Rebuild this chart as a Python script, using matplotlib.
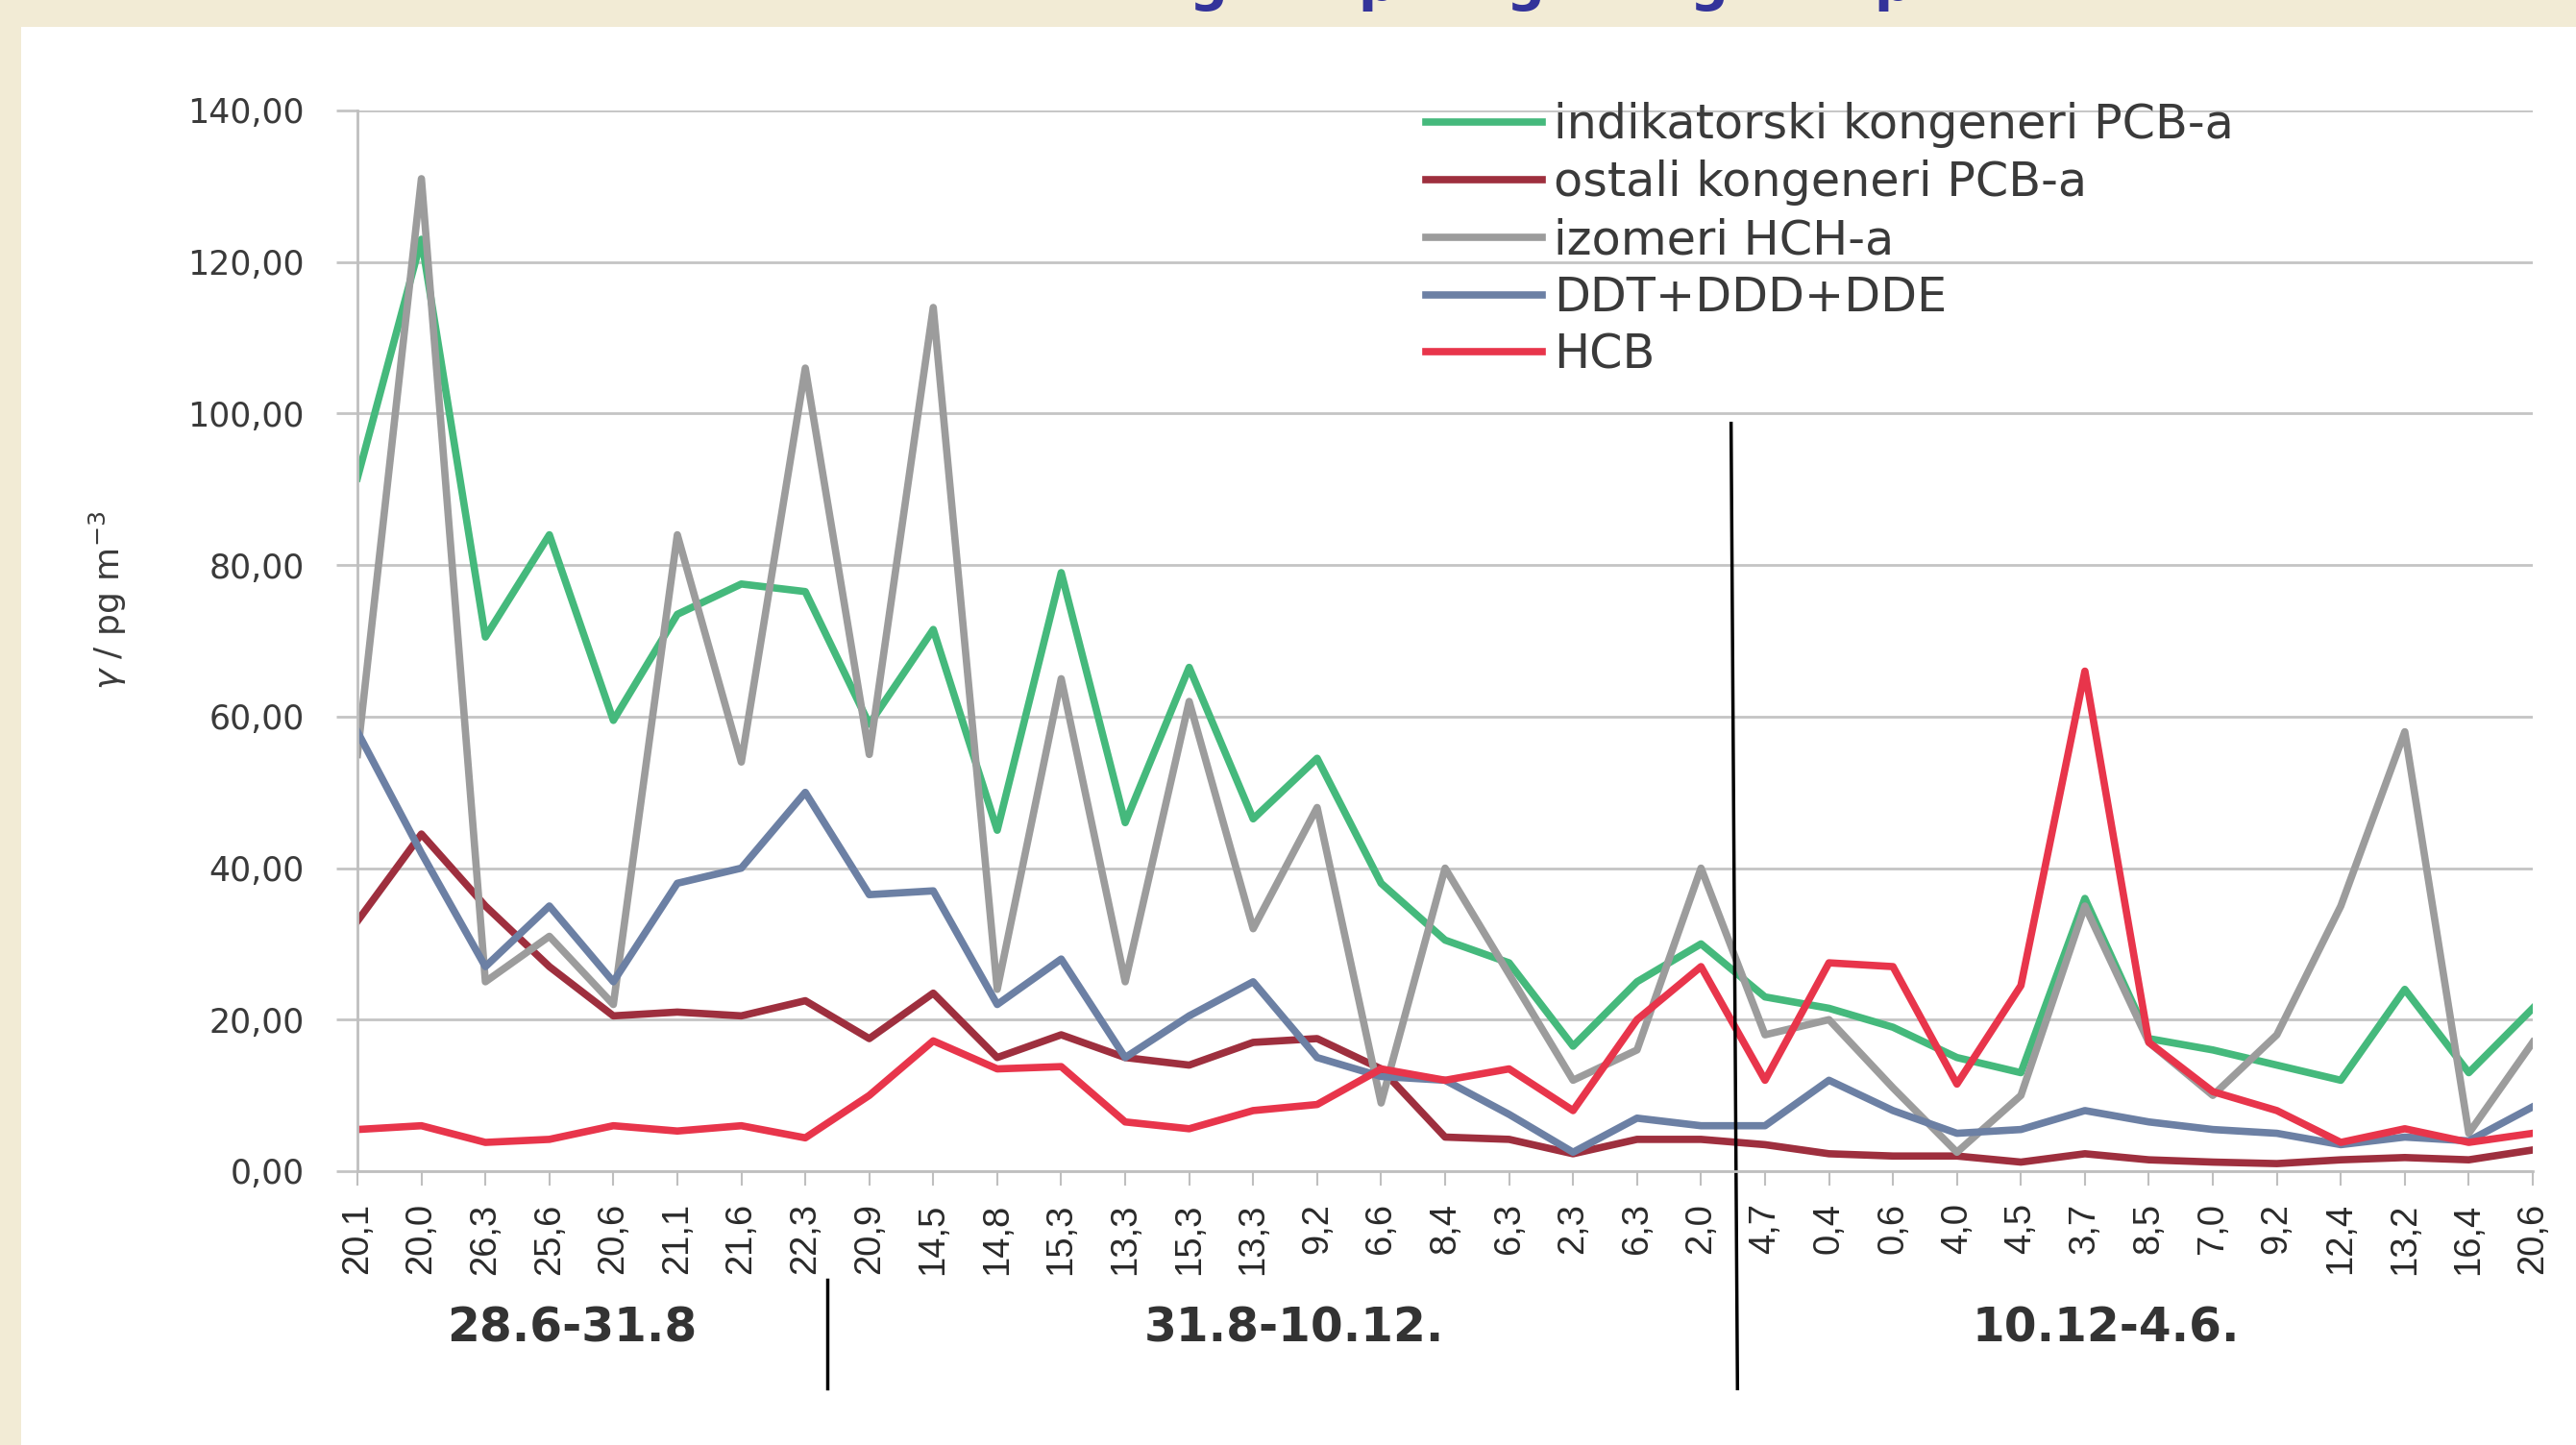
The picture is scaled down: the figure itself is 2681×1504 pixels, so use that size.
import matplotlib.pyplot as plt
from matplotlib.patches import Rectangle
from matplotlib.ticker import FuncFormatter

# sampling labels along the x axis
labels = ['20,1', '20,0', '26,3', '25,6', '20,6', '21,1', '21,6', '22,3', '20,9',
          '14,5', '14,8', '15,3', '13,3', '15,3', '13,3', '9,2', '6,6', '8,4',
          '6,3', '2,3', '6,3', '2,0', '4,7', '0,4', '0,6', '4,0', '4,5', '3,7',
          '8,5', '7,0', '9,2', '12,4', '13,2', '16,4', '20,6']

# concentrations, pg m^-3
indikatorski = [91.5, 123, 70.5, 84, 59.5, 73.5, 77.5, 76.5, 59, 71.5, 45, 79, 46,
                66.5, 46.5, 54.5, 38, 30.5, 27.5, 16.5, 25, 30, 23, 21.5, 19, 15,
                13, 36, 17.5, 16, 14, 12, 24, 13, 21.5]
ostali = [33, 44.5, 35, 27, 20.5, 21, 20.5, 22.5, 17.5, 23.5, 15, 18, 15, 14, 17,
          17.5, 13.5, 4.5, 4.2, 2.3, 4.2, 4.2, 3.5, 2.3, 2, 2, 1.2, 2.3, 1.5, 1.2,
          1, 1.5, 1.8, 1.5, 2.8]
hch = [55, 131, 25, 31, 22, 84, 54, 106, 55, 114, 24, 65, 25, 62, 32, 48, 9, 40,
       26, 12, 16, 40, 18, 20, 11, 2.5, 10, 35, 17, 10, 18, 35, 58, 5, 17]
ddt = [58, 42, 27, 35, 25, 38, 40, 50, 36.5, 37, 22, 28, 15, 20.5, 25, 15, 12.5,
       12, 7.5, 2.5, 7, 6, 6, 12, 8, 5, 5.5, 8, 6.5, 5.5, 5, 3.5, 4.5, 4, 8.5]
hcb = [5.5, 6, 3.8, 4.2, 6, 5.3, 6, 4.4, 10, 17.2, 13.5, 13.8, 6.5, 5.6, 8, 8.8,
       13.5, 12, 13.5, 8, 20, 27, 12, 27.5, 27, 11.5, 24.5, 66, 17, 10.5, 8, 3.8,
       5.6, 3.8, 5]

series = [
    ('indikatorski kongeneri PCB-a', indikatorski, '#45B97C'),
    ('ostali kongeneri PCB-a', ostali, '#9E2F3E'),
    ('izomeri HCH-a', hch, '#9C9C9C'),
    ('DDT+DDD+DDE', ddt, '#6C80A4'),
    ('HCB', hcb, '#E8354B'),
]

periods = ['28.6-31.8', '31.8-10.12.', '10.12-4.6.']
period_x = [3.35, 14.64, 27.33]

W, H = 2681, 1504
fig = plt.figure(figsize=(W / 100, H / 100), dpi=100, facecolor='#F2EBD5')
fig.patches.append(Rectangle((22 / W, 0), 1, 1 - 28 / H, transform=fig.transFigure,
                             facecolor='white', edgecolor='none', zorder=-10))

# title cut off at the top edge
for gx, ch in zip([1257, 1433, 1587, 1778, 1970], ['g', 'p', 'g', 'g', 'p']):
    fig.text(gx / W, 1.0, ch, ha='center', va='baseline', fontsize=40,
             fontweight='bold', color='#33339A')

ax = fig.add_axes([372 / W, 1 - 1219 / H, (2636 - 372) / W, (1219 - 115) / H])
ax.set_facecolor('white')

x = list(range(len(labels)))
for name, vals, col in series:
    ax.plot(x, vals, color=col, lw=5.5, label=name)

ax.set_xlim(0, len(labels) - 1)
ax.set_ylim(0, 140)
ax.set_yticks(range(0, 141, 20))
ax.yaxis.set_major_formatter(FuncFormatter(lambda v, p: f'{v:.2f}'.replace('.', ',')))
ax.set_xticks(x)
ax.set_xticklabels(labels, rotation=90, fontsize=27.5, color='#2A2A2A',
                   family='Liberation Sans')

ax.yaxis.grid(True, color='#C4C4C4', lw=2)
ax.set_axisbelow(True)
for s in ['top', 'right']:
    ax.spines[s].set_visible(False)
for s in ['left', 'bottom']:
    ax.spines[s].set_color('#BFBFBF')
    ax.spines[s].set_linewidth(2)
ax.tick_params(axis='x', length=11, width=1.5, color='#BFBFBF', pad=13)
ax.tick_params(axis='y', length=16, width=2, color='#C4C4C4', pad=24,
               labelsize=25, labelcolor='#3A3A3A')

fig.text(112 / W, 1 - 625 / H, r'$\gamma$ / pg m$^{-3}$', rotation=90,
         ha='center', va='center', fontsize=26, color='#3A3A3A')

# period separators and names below the axis
tr = ax.get_xaxis_transform()
ax.plot([7.34, 7.34], [-0.102, -0.205], color='black', lw=2.5, transform=tr,
        clip_on=False)
ax.plot([21.47, 21.57], [0.705, -0.205], color='black', lw=2.5, transform=tr,
        clip_on=False)
for px, name in zip(period_x, periods):
    ax.text(px, -0.148, name, transform=tr, ha='center', va='center',
            fontsize=35, fontweight='bold', color='#333333')

ax.legend(loc='center left', bbox_to_anchor=(1484 / W, 1 - 250 / H),
          bbox_transform=fig.transFigure, frameon=False, fontsize=35.5,
          handlelength=2.45, handletextpad=0.25, labelspacing=0.24,
          borderpad=0, borderaxespad=0, labelcolor='#3A3A3A')

fig.savefig('out.png', dpi=100, facecolor=fig.get_facecolor())
